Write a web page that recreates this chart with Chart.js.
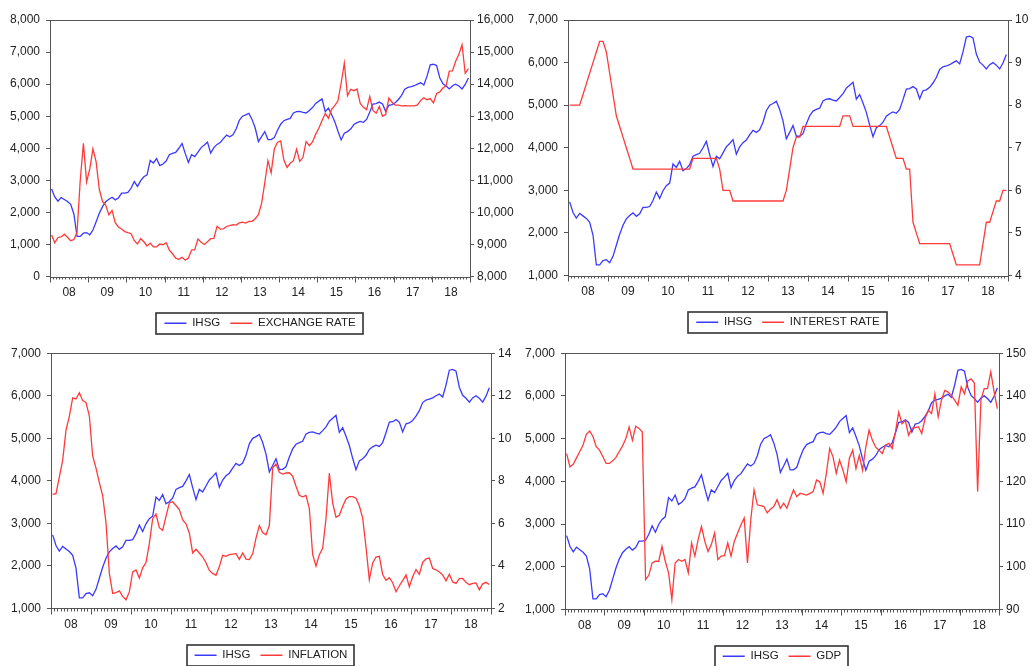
<!DOCTYPE html>
<html>
<head>
<meta charset="utf-8">
<title>IHSG</title>
<script src="https://cdn.jsdelivr.net/npm/chart.js"></script>
<style>
  html, body { margin:0; padding:0; background:#fff; overflow:hidden; }
  body { width:1033px; height:666px; position:relative; }
  canvas { position:absolute; }
</style>
</head>
<body>
<canvas id="c1" width="516" height="340" style="left:0;top:0"></canvas>
<canvas id="c2" width="517" height="340" style="left:516px;top:0"></canvas>
<canvas id="c3" width="516" height="340" style="left:0;top:340px"></canvas>
<canvas id="c4" width="517" height="340" style="left:516px;top:340px"></canvas>
<script>
// label tahun (Jan 2008 - Des 2018, data bulanan)
var tahun = ['08','09','10','11','12','13','14','15','16','17','18'];

var ihsg = [
  2730,2480,2350,2460,2400,2340,2250,1950,1250,1250,1350,1370,
  1300,1450,1710,1970,2180,2330,2410,2470,2390,2450,2600,2600,
  2620,2760,2960,2810,2990,3110,3170,3620,3540,3680,3460,3510,
  3600,3800,3840,3870,4000,4150,3840,3560,3800,3740,3880,4020,
  4100,4190,3850,4020,4120,4180,4300,4410,4360,4420,4600,4870,
  5000,5040,5090,4900,4630,4210,4360,4520,4270,4270,4330,4560,
  4750,4860,4900,4930,5100,5140,5150,5120,5100,5180,5270,5400,
  5470,5540,5140,5250,5050,4830,4530,4260,4470,4520,4600,4740,
  4800,4840,4810,4900,5130,5380,5390,5440,5380,5150,5340,5360,
  5420,5520,5650,5840,5900,5920,5950,6000,6040,5970,6250,6600,
  6620,6580,6200,6010,5940,5850,5950,6000,5940,5850,5990,6190
];

var kurs = [
  9291,9051,9217,9234,9318,9225,9118,9153,9378,10995,12151,10950,
  11355,11980,11575,10713,10340,10225,9920,10060,9681,9545,9480,9400,
  9365,9335,9115,9012,9180,9083,8952,9041,8924,8928,9013,8991,
  9057,8823,8709,8574,8537,8597,8508,8578,8823,8835,9170,9068,
  9000,9085,9180,9190,9565,9480,9485,9560,9588,9615,9605,9670,
  9698,9667,9719,9722,9802,9929,10278,10924,11613,11234,11977,12189,
  12226,11634,11404,11532,11611,11969,11591,11717,12212,12082,12196,12440,
  12625,12863,13084,12937,13211,13332,13481,14027,14657,13639,13840,13795,
  13846,13395,13276,13204,13615,13180,13094,13300,12998,13051,13563,13436,
  13343,13347,13321,13327,13321,13319,13323,13351,13492,13572,13514,13548,
  13413,13707,13756,13877,13951,14404,14413,14711,14929,15227,14339,14481
];

var bunga = [
  8,8,8,8,8.25,8.5,8.75,9,9.25,9.5,9.5,9.25,
  8.75,8.25,7.75,7.5,7.25,7,6.75,6.5,6.5,6.5,6.5,6.5,
  6.5,6.5,6.5,6.5,6.5,6.5,6.5,6.5,6.5,6.5,6.5,6.5,
  6.5,6.75,6.75,6.75,6.75,6.75,6.75,6.75,6.75,6.5,6,6,
  6,5.75,5.75,5.75,5.75,5.75,5.75,5.75,5.75,5.75,5.75,5.75,
  5.75,5.75,5.75,5.75,5.75,6,6.5,7,7.25,7.25,7.5,7.5,
  7.5,7.5,7.5,7.5,7.5,7.5,7.5,7.5,7.5,7.5,7.75,7.75,
  7.75,7.5,7.5,7.5,7.5,7.5,7.5,7.5,7.5,7.5,7.5,7.5,
  7.25,7,6.75,6.75,6.75,6.5,6.5,5.25,5,4.75,4.75,4.75,
  4.75,4.75,4.75,4.75,4.75,4.75,4.75,4.5,4.25,4.25,4.25,4.25,
  4.25,4.25,4.25,4.25,4.75,5.25,5.25,5.5,5.75,5.75,6,6
];

var inflasi = [
  7.36,7.40,8.17,8.96,10.38,11.03,11.90,11.85,12.14,11.77,11.68,11.06,
  9.17,8.60,7.92,7.31,6.04,3.65,2.71,2.75,2.83,2.57,2.41,2.78,
  3.72,3.81,3.43,3.91,4.16,5.05,6.22,6.44,5.80,5.67,6.33,6.96,
  7.02,6.84,6.65,6.16,5.98,5.54,4.61,4.79,4.61,4.42,4.15,3.79,
  3.65,3.56,3.97,4.50,4.45,4.53,4.56,4.58,4.31,4.61,4.32,4.30,
  4.57,5.31,5.90,5.57,5.47,5.90,8.61,8.79,8.40,8.32,8.37,8.38,
  8.22,7.75,7.32,7.25,7.32,6.70,4.53,3.99,4.53,4.83,6.23,8.36,
  6.96,6.29,6.38,6.79,7.15,7.26,7.26,7.18,6.83,6.25,4.89,3.35,
  4.14,4.42,4.45,3.60,3.33,3.45,3.21,2.79,3.07,3.31,3.58,3.02,
  3.49,3.83,3.61,4.17,4.33,4.37,3.88,3.82,3.72,3.58,3.30,3.61,
  3.25,3.18,3.40,3.41,3.23,3.12,3.18,3.20,2.88,3.16,3.23,3.13
];

var gdp = [
  126.5,123.4,124.0,125.5,127.0,128.5,131.0,131.8,130.5,128.1,127.3,125.8,
  124.2,124.2,124.8,125.6,127.0,128.3,130.0,132.7,129.6,132.9,132.4,131.6,
  97.0,98.0,100.9,101.3,101.3,104.8,101.3,98.6,92.3,100.9,101.7,101.3,
  101.7,98.6,105.6,102.5,106.4,109.4,106.0,103.6,105.2,107.9,101.7,102.5,
  102.6,105.6,102.5,106.0,107.9,109.8,111.4,100.9,111.0,118.0,114.5,114.3,
  114.1,112.6,113.5,114.1,115.7,113.7,114.9,113.7,116.0,118.0,116.4,117.2,
  117.0,116.8,117.2,117.6,120.3,119.9,117.2,121.9,127.7,125.8,121.9,125.0,
  122.7,119.9,125.4,127.3,123.0,126.1,122.6,128.1,132.0,129.6,128.0,127.3,
  126.5,128.5,128.9,127.7,131.6,136.2,133.5,134.3,130.8,132.4,132.6,132.8,
  131.2,134.7,136.6,135.9,140.5,135.1,139.0,141.3,140.9,140.1,139.0,137.8,
  142.1,140.5,143.5,144.0,143.0,117.6,139.0,141.7,141.7,145.6,141.0,137.0
];

// sumbu: [min, max, langkah]
var sumbuIhsg8 = [0, 8000, 1000];
var sumbuIhsg7 = [1000, 7000, 1000];
var sumbuKurs = [8000, 16000, 1000];
var sumbuBunga = [4, 10, 1];
var sumbuInflasi = [2, 14, 2];
var sumbuGdp = [90, 150, 10];

Chart.defaults.font.family = "'Liberation Sans', Arial, sans-serif";
Chart.defaults.font.size = 12;
Chart.defaults.color = '#222';

var BIRU = '#3a3aff', MERAH = '#ff3a3a';

function titik(arr){
  return arr.map(function(v, i){ return {x: i, y: v}; });
}

// kotak plot, tick tahunan, bingkai legenda
var bingkai = {
  id: 'bingkai',
  afterDraw: function(chart){
    var ctx = chart.ctx, a = chart.chartArea, sx = chart.scales.x;
    ctx.save();
    ctx.strokeStyle = '#555';
    ctx.lineWidth = 1;
    ctx.strokeRect(Math.round(a.left)+0.5, Math.round(a.top)+0.5,
                   Math.round(a.right-a.left), Math.round(a.bottom-a.top));
    ctx.beginPath();
    for (var k = 0; k <= tahun.length; k++){
      var px = Math.round(sx.getPixelForValue(k*12 - 0.5)) + 0.5;
      ctx.moveTo(px, a.bottom);
      ctx.lineTo(px, a.bottom + 6);
    }
    ctx.stroke();
    var hb = chart.legend.legendHitBoxes;
    if (hb && hb.length){
      var last = hb[hb.length-1];
      var l = Math.round(hb[0].left - 8), r = Math.round(last.left + last.width + 7);
      var t = Math.round(hb[0].top - 5), b = Math.round(hb[0].top + hb[0].height + 5);
      ctx.lineWidth = 1.6;
      ctx.strokeStyle = '#333';
      ctx.strokeRect(l, t, r-l, b-t);
    }
    ctx.restore();
  }
};

function panel(id, nama, seri, kiri, kanan, tata){
  return new Chart(document.getElementById(id), {
    type: 'line',
    data: {
      datasets: [
        {label:'IHSG', data:titik(ihsg), yAxisID:'yL', borderColor:BIRU, backgroundColor:BIRU,
         borderWidth:1.3, pointRadius:0, tension:0, order:1},
        {label:nama, data:titik(seri), yAxisID:'yR', borderColor:MERAH, backgroundColor:MERAH,
         borderWidth:1.3, pointRadius:0, tension:0, order:0}
      ]
    },
    options: {
      responsive: false,
      animation: false,
      layout: {padding: {top: tata.atas, bottom: tata.bawah, left: 0, right: 0}},
      plugins: {
        legend: {
          position: 'bottom', fullSize: false,
          labels: {usePointStyle:true, pointStyle:'line', pointStyleWidth:22, padding:10,
                   font:{size:11.5}, color:'#222',
                   sort: function(a, b){ return a.datasetIndex - b.datasetIndex; }}
        },
        tooltip: {enabled: false}
      },
      scales: {
        x: {
          type: 'linear', min: -0.5, max: ihsg.length - 0.5,
          afterBuildTicks: function(s){
            var t = [];
            for (var i = 0; i <= ihsg.length; i++) t.push({value: i - 0.5});
            s.ticks = t;
          },
          afterFit: function(s){ s.height = 31; },
          grid: {drawOnChartArea:false, tickLength:3, color:'#555'},
          border: {display:false},
          ticks: {
            autoSkip:false, maxRotation:0, padding:6,
            callback: function(v){
              var k = (v - 5.5) / 12;
              return (k >= 0 && k % 1 === 0) ? tahun[k] : '';
            }
          }
        },
        yL: {
          position: 'left', min: kiri[0], max: kiri[1],
          afterFit: function(s){ s.width = tata.kiri; },
          grid: {drawOnChartArea:false, tickLength:4, color:'#555'},
          border: {display:false},
          ticks: {stepSize: kiri[2], padding:6,
                  callback: function(v){ return v.toLocaleString('en-US'); }}
        },
        yR: {
          position: 'right', min: kanan[0], max: kanan[1],
          afterFit: function(s){ s.width = tata.kanan; },
          grid: {drawOnChartArea:false, tickLength:4, color:'#555'},
          border: {display:false},
          ticks: {stepSize: kanan[2], padding:3,
                  callback: function(v){ return v.toLocaleString('en-US'); }}
        }
      }
    },
    plugins: [bingkai]
  });
}

panel('c1', 'EXCHANGE RATE', kurs, sumbuIhsg8, sumbuKurs, {atas:20, bawah:1, kiri:50, kanan:46});
panel('c2', 'INTEREST RATE', bunga, sumbuIhsg7, sumbuBunga, {atas:20, bawah:2, kiri:52, kanan:25});
panel('c3', 'INFLATION', inflasi, sumbuIhsg7, sumbuInflasi, {atas:13, bawah:9, kiri:51, kanan:25});
panel('c4', 'GDP', gdp, sumbuIhsg7, sumbuGdp, {atas:13, bawah:8, kiri:49, kanan:34});
</script>
</body>
</html>
